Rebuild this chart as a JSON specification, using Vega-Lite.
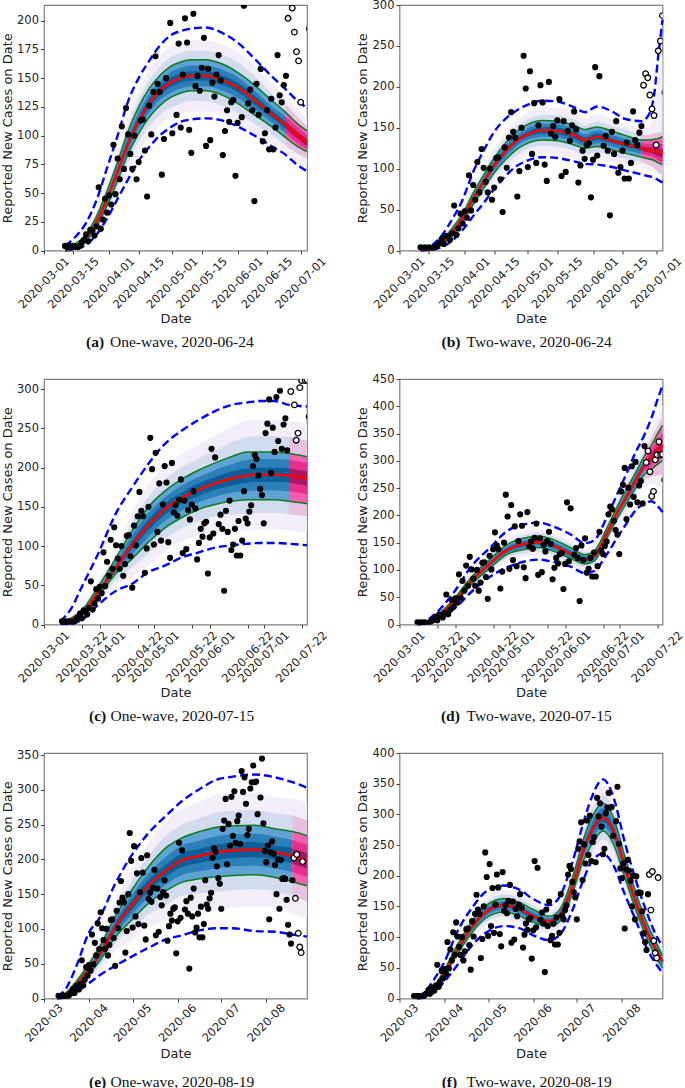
{"$schema":"https://vega.github.io/schema/vega-lite/v6.json","padding":{"left":0,"top":-2,"right":0,"bottom":0},"background":"white","columns":2,"spacing":{"row":128,"column":92.5},"bounds":"flush","config":{"view":{"stroke":"#7f7f7f","strokeWidth":1.2},"axis":{"grid":false,"domain":false,"labelFont":"DejaVu Sans","labelFontSize":11.5,"labelColor":"#222222","titleFont":"DejaVu Sans","titleFontSize":13,"titleFontWeight":"normal","titleColor":"#222222","tickColor":"#444444","tickSize":3.5,"labelOverlap":false,"labelFlush":false,"labelBound":false},"title":{"font":"Liberation Serif","fontSize":15.5,"fontWeight":"normal","color":"#111111","orient":"bottom","anchor":"start","frame":"group"}},"datasets":{"obs":[{"date":"2020-03-11","cases":4},{"date":"2020-03-12","cases":3},{"date":"2020-03-13","cases":4},{"date":"2020-03-14","cases":3},{"date":"2020-03-15","cases":4},{"date":"2020-03-16","cases":3},{"date":"2020-03-17","cases":3},{"date":"2020-03-18","cases":4},{"date":"2020-03-19","cases":7},{"date":"2020-03-20","cases":9},{"date":"2020-03-21","cases":14},{"date":"2020-03-22","cases":8},{"date":"2020-03-23","cases":18},{"date":"2020-03-24","cases":17},{"date":"2020-03-25","cases":13},{"date":"2020-03-26","cases":21},{"date":"2020-03-27","cases":55},{"date":"2020-03-28","cases":19},{"date":"2020-03-29","cases":27},{"date":"2020-03-30","cases":45},{"date":"2020-03-31","cases":33},{"date":"2020-04-01","cases":48},{"date":"2020-04-02","cases":40},{"date":"2020-04-03","cases":92},{"date":"2020-04-04","cases":49},{"date":"2020-04-05","cases":80},{"date":"2020-04-06","cases":62},{"date":"2020-04-07","cases":108},{"date":"2020-04-08","cases":71},{"date":"2020-04-09","cases":124},{"date":"2020-04-10","cases":101},{"date":"2020-04-11","cases":84},{"date":"2020-04-12","cases":71},{"date":"2020-04-13","cases":100},{"date":"2020-04-14","cases":62},{"date":"2020-04-15","cases":77},{"date":"2020-04-16","cases":113},{"date":"2020-04-17","cases":114},{"date":"2020-04-18","cases":87},{"date":"2020-04-19","cases":47},{"date":"2020-04-20","cases":126},{"date":"2020-04-21","cases":101},{"date":"2020-04-22","cases":138},{"date":"2020-04-23","cases":169},{"date":"2020-04-24","cases":145},{"date":"2020-04-25","cases":138},{"date":"2020-04-26","cases":66},{"date":"2020-04-27","cases":97},{"date":"2020-04-28","cases":150},{"date":"2020-04-29","cases":238},{"date":"2020-04-30","cases":198},{"date":"2020-05-01","cases":102},{"date":"2020-05-02","cases":219},{"date":"2020-05-03","cases":118},{"date":"2020-05-04","cases":180},{"date":"2020-05-05","cases":107},{"date":"2020-05-06","cases":153},{"date":"2020-05-07","cases":202},{"date":"2020-05-08","cases":181},{"date":"2020-05-09","cases":105},{"date":"2020-05-10","cases":85},{"date":"2020-05-11","cases":206},{"date":"2020-05-12","cases":143},{"date":"2020-05-13","cases":152},{"date":"2020-05-14","cases":139},{"date":"2020-05-15","cases":159},{"date":"2020-05-16","cases":185},{"date":"2020-05-17","cases":91},{"date":"2020-05-18","cases":158},{"date":"2020-05-19","cases":96},{"date":"2020-05-20","cases":146},{"date":"2020-05-21","cases":134},{"date":"2020-05-22","cases":153},{"date":"2020-05-23","cases":170},{"date":"2020-05-24","cases":148},{"date":"2020-05-25","cases":83},{"date":"2020-05-26","cases":104},{"date":"2020-05-27","cases":122},{"date":"2020-05-28","cases":112},{"date":"2020-05-29","cases":129},{"date":"2020-05-30","cases":131},{"date":"2020-05-31","cases":65},{"date":"2020-06-01","cases":111},{"date":"2020-06-02","cases":224},{"date":"2020-06-03","cases":116},{"date":"2020-06-04","cases":213},{"date":"2020-06-06","cases":128},{"date":"2020-06-07","cases":140},{"date":"2020-06-08","cases":122},{"date":"2020-06-09","cases":43},{"date":"2020-06-10","cases":145},{"date":"2020-06-11","cases":118},{"date":"2020-06-12","cases":158},{"date":"2020-06-13","cases":95},{"date":"2020-06-14","cases":102},{"date":"2020-06-15","cases":122},{"date":"2020-06-16","cases":88},{"date":"2020-06-17","cases":132},{"date":"2020-06-18","cases":88},{"date":"2020-06-19","cases":107},{"date":"2020-06-20","cases":170},{"date":"2020-06-21","cases":135},{"date":"2020-06-22","cases":129},{"date":"2020-06-23","cases":144},{"date":"2020-06-24","cases":152},{"date":"2020-06-25","cases":202},{"date":"2020-06-26","cases":216},{"date":"2020-06-27","cases":211},{"date":"2020-06-28","cases":190},{"date":"2020-06-29","cases":173},{"date":"2020-06-30","cases":165},{"date":"2020-07-01","cases":129},{"date":"2020-07-02","cases":244},{"date":"2020-07-03","cases":256},{"date":"2020-07-04","cases":287},{"date":"2020-07-05","cases":193},{"date":"2020-07-06","cases":251},{"date":"2020-07-07","cases":220},{"date":"2020-07-08","cases":290},{"date":"2020-07-09","cases":234},{"date":"2020-07-10","cases":298},{"date":"2020-07-11","cases":224},{"date":"2020-07-12","cases":255},{"date":"2020-07-13","cases":263},{"date":"2020-07-14","cases":222},{"date":"2020-07-15","cases":327},{"date":"2020-07-16","cases":297},{"date":"2020-07-17","cases":318},{"date":"2020-07-18","cases":280},{"date":"2020-07-19","cases":235},{"date":"2020-07-20","cases":244},{"date":"2020-07-21","cases":302},{"date":"2020-07-22","cases":311},{"date":"2020-07-23","cases":335},{"date":"2020-07-24","cases":311},{"date":"2020-07-25","cases":312},{"date":"2020-07-26","cases":265},{"date":"2020-07-28","cases":289},{"date":"2020-07-29","cases":345},{"date":"2020-07-30","cases":252},{"date":"2020-07-31","cases":212},{"date":"2020-08-01","cases":196},{"date":"2020-08-02","cases":220},{"date":"2020-08-03","cases":114},{"date":"2020-08-04","cases":210},{"date":"2020-08-05","cases":226},{"date":"2020-08-06","cases":208},{"date":"2020-08-07","cases":192},{"date":"2020-08-08","cases":150},{"date":"2020-08-09","cases":200},{"date":"2020-08-10","cases":129},{"date":"2020-08-11","cases":199},{"date":"2020-08-12","cases":172},{"date":"2020-08-13","cases":173},{"date":"2020-08-14","cases":172},{"date":"2020-08-15","cases":142},{"date":"2020-08-16","cases":106},{"date":"2020-08-17","cases":92},{"date":"2020-08-18","cases":79},{"date":"2020-08-19","cases":170},{"date":"2020-08-20","cases":202},{"date":"2020-08-21","cases":144},{"date":"2020-08-22","cases":207},{"date":"2020-08-23","cases":94},{"date":"2020-08-24","cases":74},{"date":"2020-08-25","cases":66},{"date":"2020-08-26","cases":197}],
"ca":[{"date":"2020-03-11","m":1,"gu":2,"gl":0,"bu":4,"bl":0,"pu":3,"pl":0,"qu":3,"ql":0,"ru":2,"rl":0,"su":1,"sl":1},{"date":"2020-03-16","m":3,"gu":6,"gl":2,"bu":12,"bl":1,"pu":8,"pl":0,"qu":6,"ql":0,"ru":4,"rl":2,"su":4,"sl":2},{"date":"2020-03-21","m":11,"gu":14,"gl":8,"bu":24,"bl":5,"pu":18,"pl":4,"qu":16,"ql":6,"ru":13,"rl":9,"su":12,"sl":10},{"date":"2020-03-26","m":25,"gu":30,"gl":21,"bu":44,"bl":14,"pu":35,"pl":15,"qu":32,"ql":18,"ru":28,"rl":22,"su":26,"sl":24},{"date":"2020-03-31","m":45,"gu":52,"gl":39,"bu":72,"bl":28,"pu":60,"pl":30,"qu":55,"ql":35,"ru":49,"rl":41,"su":47,"sl":43},{"date":"2020-04-05","m":69,"gu":77,"gl":61,"bu":100,"bl":45,"pu":87,"pl":51,"qu":82,"ql":56,"ru":74,"rl":64,"su":71,"sl":67},{"date":"2020-04-10","m":93,"gu":104,"gl":84,"bu":130,"bl":62,"pu":116,"pl":70,"qu":109,"ql":77,"ru":100,"rl":86,"su":96,"sl":90},{"date":"2020-04-15","m":113,"gu":125,"gl":102,"bu":150,"bl":78,"pu":139,"pl":87,"qu":131,"ql":95,"ru":120,"rl":106,"su":116,"sl":110},{"date":"2020-04-20","m":128,"gu":141,"gl":116,"bu":165,"bl":90,"pu":157,"pl":99,"qu":148,"ql":108,"ru":136,"rl":120,"su":132,"sl":124},{"date":"2020-04-25","m":139,"gu":152,"gl":126,"bu":178,"bl":100,"pu":169,"pl":109,"qu":160,"ql":118,"ru":147,"rl":131,"su":143,"sl":135},{"date":"2020-04-30","m":146,"gu":160,"gl":133,"bu":187,"bl":107,"pu":177,"pl":115,"qu":168,"ql":124,"ru":155,"rl":137,"su":150,"sl":142},{"date":"2020-05-05","m":150,"gu":164,"gl":137,"bu":191,"bl":112,"pu":181,"pl":119,"qu":172,"ql":128,"ru":159,"rl":141,"su":154,"sl":146},{"date":"2020-05-10","m":152,"gu":166,"gl":139,"bu":193,"bl":114,"pu":183,"pl":121,"qu":174,"ql":130,"ru":161,"rl":143,"su":156,"sl":148},{"date":"2020-05-17","m":152,"gu":166,"gl":139,"bu":194,"bl":115,"pu":183,"pl":121,"qu":174,"ql":130,"ru":161,"rl":143,"su":156,"sl":148},{"date":"2020-05-25","m":148,"gu":162,"gl":135,"bu":189,"bl":113,"pu":179,"pl":117,"qu":170,"ql":126,"ru":157,"rl":139,"su":152,"sl":144},{"date":"2020-06-01","m":142,"gu":155,"gl":128,"bu":181,"bl":108,"pu":173,"pl":111,"qu":164,"ql":120,"ru":151,"rl":133,"su":146,"sl":138},{"date":"2020-06-09","m":131,"gu":144,"gl":118,"bu":167,"bl":100,"pu":161,"pl":101,"qu":152,"ql":110,"ru":139,"rl":123,"su":135,"sl":127},{"date":"2020-06-17","m":119,"gu":131,"gl":108,"bu":152,"bl":91,"pu":145,"pl":93,"qu":137,"ql":101,"ru":126,"rl":112,"su":122,"sl":116},{"date":"2020-06-24","m":109,"gu":120,"gl":98,"bu":140,"bl":83,"pu":134,"pl":84,"qu":127,"ql":91,"ru":116,"rl":102,"su":112,"sl":106},{"date":"2020-06-29","m":101,"gu":111,"gl":91,"bu":131,"bl":75,"pu":124,"pl":78,"qu":117,"ql":85,"ru":108,"rl":94,"su":104,"sl":98},{"date":"2020-07-04","m":94,"gu":104,"gl":86,"bu":124,"bl":69,"pu":115,"pl":73,"qu":108,"ql":80,"ru":100,"rl":88,"su":97,"sl":91}],
"cb":[{"date":"2020-03-11","m":1,"gu":2,"gl":0,"bu":3,"bl":0,"pu":2,"pl":0,"qu":2,"ql":0,"ru":2,"rl":0,"su":1,"sl":1},{"date":"2020-03-16","m":2,"gu":4,"gl":1,"bu":6,"bl":1,"pu":5,"pl":0,"qu":4,"ql":0,"ru":3,"rl":1,"su":2,"sl":2},{"date":"2020-03-21","m":9,"gu":12,"gl":7,"bu":18,"bl":4,"pu":15,"pl":3,"qu":13,"ql":5,"ru":11,"rl":7,"su":10,"sl":8},{"date":"2020-03-26","m":22,"gu":27,"gl":18,"bu":38,"bl":12,"pu":32,"pl":12,"qu":29,"ql":15,"ru":25,"rl":19,"su":23,"sl":21},{"date":"2020-03-31","m":40,"gu":45,"gl":35,"bu":62,"bl":25,"pu":52,"pl":28,"qu":48,"ql":32,"ru":43,"rl":37,"su":42,"sl":38},{"date":"2020-04-05","m":63,"gu":70,"gl":56,"bu":96,"bl":42,"pu":79,"pl":47,"qu":74,"ql":52,"ru":68,"rl":58,"su":65,"sl":61},{"date":"2020-04-10","m":84,"gu":92,"gl":76,"bu":122,"bl":58,"pu":102,"pl":66,"qu":97,"ql":71,"ru":89,"rl":79,"su":86,"sl":82},{"date":"2020-04-15","m":104,"gu":113,"gl":95,"bu":145,"bl":75,"pu":125,"pl":83,"qu":118,"ql":90,"ru":110,"rl":98,"su":107,"sl":101},{"date":"2020-04-20","m":120,"gu":130,"gl":110,"bu":160,"bl":90,"pu":143,"pl":97,"qu":136,"ql":104,"ru":127,"rl":113,"su":123,"sl":117},{"date":"2020-04-25","m":133,"gu":144,"gl":122,"bu":170,"bl":102,"pu":158,"pl":108,"qu":151,"ql":115,"ru":140,"rl":126,"su":136,"sl":130},{"date":"2020-04-30","m":141,"gu":153,"gl":130,"bu":177,"bl":109,"pu":167,"pl":115,"qu":159,"ql":123,"ru":148,"rl":134,"su":144,"sl":138},{"date":"2020-05-08","m":147,"gu":159,"gl":135,"bu":183,"bl":114,"pu":175,"pl":119,"qu":166,"ql":128,"ru":155,"rl":139,"su":151,"sl":143},{"date":"2020-05-15","m":146,"gu":158,"gl":134,"bu":182,"bl":113,"pu":174,"pl":118,"qu":165,"ql":127,"ru":154,"rl":138,"su":150,"sl":142},{"date":"2020-05-23","m":141,"gu":153,"gl":129,"bu":175,"bl":109,"pu":169,"pl":113,"qu":160,"ql":122,"ru":149,"rl":133,"su":145,"sl":137},{"date":"2020-05-28","m":135,"gu":148,"gl":125,"bu":169,"bl":106,"pu":161,"pl":109,"qu":153,"ql":117,"ru":142,"rl":128,"su":138,"sl":132},{"date":"2020-06-03","m":139,"gu":151,"gl":127,"bu":176,"bl":105,"pu":167,"pl":111,"qu":158,"ql":120,"ru":147,"rl":131,"su":143,"sl":135},{"date":"2020-06-10","m":134,"gu":146,"gl":123,"bu":170,"bl":102,"pu":160,"pl":108,"qu":152,"ql":116,"ru":141,"rl":127,"su":137,"sl":131},{"date":"2020-06-16","m":130,"gu":141,"gl":119,"bu":161,"bl":98,"pu":155,"pl":105,"qu":148,"ql":112,"ru":137,"rl":123,"su":133,"sl":127},{"date":"2020-06-24","m":125,"gu":135,"gl":114,"bu":158,"bl":93,"pu":149,"pl":101,"qu":142,"ql":108,"ru":132,"rl":118,"su":128,"sl":122},{"date":"2020-06-27","m":123,"gu":135,"gl":112,"bu":164,"bl":91,"pu":150,"pl":98,"qu":141,"ql":105,"ru":130,"rl":116,"su":126,"sl":120},{"date":"2020-06-30","m":122,"gu":136,"gl":110,"bu":190,"bl":89,"pu":170,"pl":96,"qu":143,"ql":101,"ru":130,"rl":114,"su":126,"sl":118},{"date":"2020-07-02","m":120,"gu":137,"gl":107,"bu":238,"bl":86,"pu":205,"pl":92,"qu":144,"ql":96,"ru":130,"rl":110,"su":125,"sl":115},{"date":"2020-07-04","m":119,"gu":139,"gl":105,"bu":282,"bl":83,"pu":240,"pl":88,"qu":146,"ql":92,"ru":130,"rl":108,"su":124,"sl":114}],
"cc":[{"date":"2020-03-10","m":2,"gu":3,"gl":1,"bu":4,"bl":1,"pu":4,"pl":0,"qu":4,"ql":0,"ru":3,"rl":1,"su":2,"sl":2},{"date":"2020-03-16","m":6,"gu":8,"gl":4,"bu":20,"bl":1,"pu":11,"pl":1,"qu":9,"ql":3,"ru":7,"rl":5,"su":7,"sl":5},{"date":"2020-03-22","m":14,"gu":18,"gl":11,"bu":48,"bl":6,"pu":22,"pl":6,"qu":20,"ql":8,"ru":16,"rl":12,"su":15,"sl":13},{"date":"2020-03-31","m":41,"gu":48,"gl":35,"bu":90,"bl":25,"pu":56,"pl":26,"qu":51,"ql":31,"ru":45,"rl":37,"su":43,"sl":39},{"date":"2020-04-10","m":73,"gu":85,"gl":65,"bu":142,"bl":43,"pu":96,"pl":50,"qu":89,"ql":57,"ru":80,"rl":66,"su":76,"sl":70},{"date":"2020-04-19","m":102,"gu":120,"gl":84,"bu":175,"bl":52,"pu":143,"pl":61,"qu":131,"ql":73,"ru":114,"rl":90,"su":107,"sl":97},{"date":"2020-04-28","m":127,"gu":150,"gl":105,"bu":205,"bl":67,"pu":179,"pl":75,"qu":163,"ql":91,"ru":142,"rl":112,"su":134,"sl":120},{"date":"2020-05-07","m":147,"gu":170,"gl":123,"bu":230,"bl":75,"pu":201,"pl":93,"qu":185,"ql":109,"ru":162,"rl":132,"su":154,"sl":140},{"date":"2020-05-17","m":162,"gu":186,"gl":137,"bu":248,"bl":86,"pu":218,"pl":106,"qu":201,"ql":123,"ru":178,"rl":146,"su":169,"sl":155},{"date":"2020-05-26","m":172,"gu":197,"gl":147,"bu":261,"bl":92,"pu":230,"pl":114,"qu":212,"ql":132,"ru":188,"rl":156,"su":180,"sl":164},{"date":"2020-06-04","m":180,"gu":206,"gl":153,"bu":272,"bl":98,"pu":241,"pl":119,"qu":222,"ql":138,"ru":197,"rl":163,"su":188,"sl":172},{"date":"2020-06-13","m":186,"gu":214,"gl":157,"bu":280,"bl":101,"pu":252,"pl":120,"qu":232,"ql":140,"ru":204,"rl":168,"su":195,"sl":177},{"date":"2020-06-22","m":190,"gu":220,"gl":159,"bu":283,"bl":103,"pu":260,"pl":120,"qu":239,"ql":141,"ru":210,"rl":170,"su":199,"sl":181},{"date":"2020-06-29","m":191,"gu":220,"gl":159,"bu":285,"bl":104,"pu":261,"pl":121,"qu":240,"ql":142,"ru":211,"rl":171,"su":200,"sl":182},{"date":"2020-07-07","m":191,"gu":220,"gl":159,"bu":285,"bl":104,"pu":261,"pl":121,"qu":240,"ql":142,"ru":211,"rl":171,"su":200,"sl":182},{"date":"2020-07-15","m":190,"gu":218,"gl":157,"bu":280,"bl":103,"pu":260,"pl":120,"qu":239,"ql":141,"ru":210,"rl":170,"su":199,"sl":181},{"date":"2020-07-25","m":186,"gu":214,"gl":154,"bu":278,"bl":101,"pu":255,"pl":117,"qu":234,"ql":138,"ru":206,"rl":166,"su":195,"sl":177}],
"cd":[{"date":"2020-03-11","m":1,"gu":2,"gl":0,"bu":3,"bl":0,"pu":2,"pl":0,"qu":2,"ql":0,"ru":2,"rl":0,"su":1,"sl":1},{"date":"2020-03-16","m":4,"gu":5,"gl":3,"bu":7,"bl":2,"pu":6,"pl":2,"qu":6,"ql":2,"ru":5,"rl":3,"su":4,"sl":4},{"date":"2020-03-21","m":12,"gu":15,"gl":10,"bu":20,"bl":7,"pu":18,"pl":6,"qu":16,"ql":8,"ru":14,"rl":10,"su":13,"sl":11},{"date":"2020-03-31","m":41,"gu":46,"gl":37,"bu":58,"bl":28,"pu":51,"pl":31,"qu":48,"ql":34,"ru":44,"rl":38,"su":42,"sl":40},{"date":"2020-04-10","m":80,"gu":87,"gl":74,"bu":107,"bl":60,"pu":95,"pl":65,"qu":90,"ql":70,"ru":84,"rl":76,"su":82,"sl":78},{"date":"2020-04-20","m":111,"gu":119,"gl":103,"bu":140,"bl":87,"pu":129,"pl":93,"qu":124,"ql":98,"ru":116,"rl":106,"su":113,"sl":109},{"date":"2020-04-30","m":137,"gu":147,"gl":129,"bu":172,"bl":105,"pu":158,"pl":116,"qu":151,"ql":123,"ru":143,"rl":131,"su":140,"sl":134},{"date":"2020-05-10","m":148,"gu":159,"gl":138,"bu":184,"bl":116,"pu":172,"pl":124,"qu":165,"ql":131,"ru":155,"rl":141,"su":151,"sl":145},{"date":"2020-05-17","m":151,"gu":162,"gl":141,"bu":187,"bl":119,"pu":175,"pl":127,"qu":168,"ql":134,"ru":158,"rl":144,"su":154,"sl":148},{"date":"2020-05-25","m":145,"gu":156,"gl":135,"bu":180,"bl":115,"pu":169,"pl":121,"qu":162,"ql":128,"ru":152,"rl":138,"su":148,"sl":142},{"date":"2020-06-04","m":130,"gu":141,"gl":121,"bu":165,"bl":106,"pu":153,"pl":107,"qu":146,"ql":114,"ru":137,"rl":123,"su":133,"sl":127},{"date":"2020-06-12","m":119,"gu":128,"gl":111,"bu":149,"bl":94,"pu":139,"pl":99,"qu":133,"ql":105,"ru":125,"rl":113,"su":122,"sl":116},{"date":"2020-06-17","m":125,"gu":134,"gl":116,"bu":154,"bl":98,"pu":146,"pl":104,"qu":139,"ql":111,"ru":131,"rl":119,"su":128,"sl":122},{"date":"2020-06-24","m":166,"gu":176,"gl":157,"bu":196,"bl":128,"pu":188,"pl":144,"qu":181,"ql":151,"ru":172,"rl":160,"su":169,"sl":163},{"date":"2020-06-30","m":206,"gu":217,"gl":195,"bu":240,"bl":160,"pu":231,"pl":181,"qu":224,"ql":188,"ru":213,"rl":199,"su":209,"sl":203},{"date":"2020-07-06","m":240,"gu":254,"gl":228,"bu":284,"bl":190,"pu":270,"pl":210,"qu":261,"ql":219,"ru":248,"rl":232,"su":244,"sl":236},{"date":"2020-07-09","m":258,"gu":272,"gl":244,"bu":308,"bl":205,"pu":290,"pl":226,"qu":280,"ql":236,"ru":267,"rl":249,"su":262,"sl":254},{"date":"2020-07-15","m":292,"gu":309,"gl":275,"bu":348,"bl":222,"pu":331,"pl":253,"qu":319,"ql":265,"ru":303,"rl":281,"su":297,"sl":287},{"date":"2020-07-19","m":307,"gu":329,"gl":285,"bu":380,"bl":226,"pu":357,"pl":257,"qu":342,"ql":272,"ru":321,"rl":293,"su":314,"sl":300},{"date":"2020-07-22","m":318,"gu":348,"gl":293,"bu":410,"bl":218,"pu":381,"pl":255,"qu":362,"ql":274,"ru":336,"rl":300,"su":326,"sl":310},{"date":"2020-07-25","m":328,"gu":365,"gl":300,"bu":438,"bl":206,"pu":403,"pl":253,"qu":380,"ql":276,"ru":349,"rl":307,"su":338,"sl":318}],
"ce":[{"date":"2020-03-10","m":1,"gu":2,"gl":0,"bu":3,"bl":0,"pu":3,"pl":0,"qu":3,"ql":0,"ru":2,"rl":0,"su":1,"sl":1},{"date":"2020-03-16","m":6,"gu":8,"gl":4,"bu":14,"bl":2,"pu":11,"pl":1,"qu":9,"ql":3,"ru":7,"rl":5,"su":7,"sl":5},{"date":"2020-03-23","m":20,"gu":24,"gl":16,"bu":45,"bl":9,"pu":29,"pl":11,"qu":26,"ql":14,"ru":23,"rl":17,"su":21,"sl":19},{"date":"2020-04-01","m":42,"gu":50,"gl":35,"bu":95,"bl":22,"pu":59,"pl":25,"qu":54,"ql":30,"ru":47,"rl":37,"su":44,"sl":40},{"date":"2020-04-08","m":62,"gu":73,"gl":53,"bu":115,"bl":33,"pu":85,"pl":39,"qu":78,"ql":46,"ru":69,"rl":55,"su":65,"sl":59},{"date":"2020-04-19","m":103,"gu":118,"gl":88,"bu":165,"bl":47,"pu":138,"pl":68,"qu":127,"ql":79,"ru":113,"rl":93,"su":108,"sl":98},{"date":"2020-05-01","m":136,"gu":158,"gl":114,"bu":208,"bl":61,"pu":187,"pl":85,"qu":171,"ql":101,"ru":150,"rl":122,"su":143,"sl":129},{"date":"2020-05-12","m":163,"gu":190,"gl":137,"bu":238,"bl":73,"pu":224,"pl":102,"qu":205,"ql":121,"ru":180,"rl":146,"su":171,"sl":155},{"date":"2020-05-24","m":184,"gu":217,"gl":155,"bu":263,"bl":85,"pu":255,"pl":113,"qu":234,"ql":134,"ru":204,"rl":164,"su":193,"sl":175},{"date":"2020-06-04","m":199,"gu":231,"gl":167,"bu":284,"bl":91,"pu":273,"pl":125,"qu":250,"ql":148,"ru":220,"rl":178,"su":209,"sl":189},{"date":"2020-06-16","m":205,"gu":240,"gl":172,"bu":301,"bl":98,"pu":283,"pl":127,"qu":259,"ql":151,"ru":227,"rl":183,"su":215,"sl":195},{"date":"2020-06-27","m":210,"gu":246,"gl":175,"bu":314,"bl":101,"pu":292,"pl":128,"qu":267,"ql":153,"ru":233,"rl":187,"su":221,"sl":199},{"date":"2020-07-09","m":213,"gu":248,"gl":177,"bu":319,"bl":101,"pu":295,"pl":131,"qu":270,"ql":156,"ru":236,"rl":190,"su":224,"sl":202},{"date":"2020-07-24","m":214,"gu":249,"gl":178,"bu":322,"bl":97,"pu":296,"pl":132,"qu":271,"ql":157,"ru":237,"rl":191,"su":225,"sl":203},{"date":"2020-08-07","m":210,"gu":244,"gl":174,"bu":318,"bl":96,"pu":290,"pl":130,"qu":266,"ql":154,"ru":233,"rl":187,"su":220,"sl":200},{"date":"2020-08-19","m":205,"gu":240,"gl":168,"bu":311,"bl":92,"pu":288,"pl":122,"qu":263,"ql":147,"ru":228,"rl":182,"su":216,"sl":194},{"date":"2020-08-29","m":198,"gu":234,"gl":162,"bu":303,"bl":89,"pu":281,"pl":115,"qu":256,"ql":140,"ru":221,"rl":175,"su":209,"sl":187}],
"cf":[{"date":"2020-03-13","m":1,"gu":2,"gl":0,"bu":3,"bl":0,"pu":2,"pl":0,"qu":2,"ql":0,"ru":2,"rl":0,"su":1,"sl":1},{"date":"2020-03-19","m":6,"gu":8,"gl":4,"bu":12,"bl":2,"pu":10,"pl":2,"qu":9,"ql":3,"ru":7,"rl":5,"su":7,"sl":5},{"date":"2020-03-25","m":18,"gu":21,"gl":15,"bu":32,"bl":10,"pu":25,"pl":11,"qu":23,"ql":13,"ru":20,"rl":16,"su":19,"sl":17},{"date":"2020-04-01","m":42,"gu":47,"gl":38,"bu":60,"bl":28,"pu":52,"pl":32,"qu":49,"ql":35,"ru":45,"rl":39,"su":43,"sl":41},{"date":"2020-04-10","m":80,"gu":88,"gl":73,"bu":110,"bl":55,"pu":97,"pl":63,"qu":92,"ql":68,"ru":85,"rl":75,"su":82,"sl":78},{"date":"2020-04-20","m":117,"gu":126,"gl":108,"bu":148,"bl":87,"pu":138,"pl":96,"qu":131,"ql":103,"ru":123,"rl":111,"su":120,"sl":114},{"date":"2020-04-30","m":142,"gu":152,"gl":132,"bu":175,"bl":108,"pu":165,"pl":119,"qu":158,"ql":126,"ru":149,"rl":135,"su":145,"sl":139},{"date":"2020-05-12","m":152,"gu":163,"gl":141,"bu":184,"bl":118,"pu":177,"pl":127,"qu":170,"ql":134,"ru":159,"rl":145,"su":155,"sl":149},{"date":"2020-05-22","m":146,"gu":157,"gl":135,"bu":178,"bl":115,"pu":171,"pl":121,"qu":164,"ql":128,"ru":153,"rl":139,"su":149,"sl":143},{"date":"2020-06-01","m":134,"gu":145,"gl":124,"bu":162,"bl":103,"pu":158,"pl":110,"qu":151,"ql":117,"ru":141,"rl":127,"su":137,"sl":131},{"date":"2020-06-12","m":126,"gu":134,"gl":118,"bu":152,"bl":95,"pu":144,"pl":108,"qu":139,"ql":113,"ru":131,"rl":121,"su":128,"sl":124},{"date":"2020-06-19","m":135,"gu":144,"gl":125,"bu":165,"bl":103,"pu":157,"pl":113,"qu":150,"ql":120,"ru":141,"rl":129,"su":138,"sl":132},{"date":"2020-06-29","m":190,"gu":204,"gl":178,"bu":230,"bl":150,"pu":220,"pl":160,"qu":211,"ql":169,"ru":198,"rl":182,"su":194,"sl":186},{"date":"2020-07-05","m":238,"gu":255,"gl":222,"bu":282,"bl":190,"pu":276,"pl":200,"qu":264,"ql":212,"ru":249,"rl":227,"su":243,"sl":233},{"date":"2020-07-11","m":272,"gu":293,"gl":250,"bu":326,"bl":222,"pu":321,"pl":223,"qu":306,"ql":238,"ru":286,"rl":258,"su":278,"sl":266},{"date":"2020-07-19","m":295,"gu":318,"gl":273,"bu":357,"bl":236,"pu":347,"pl":243,"qu":331,"ql":259,"ru":310,"rl":280,"su":302,"sl":288},{"date":"2020-07-26","m":275,"gu":296,"gl":253,"bu":330,"bl":218,"pu":324,"pl":226,"qu":309,"ql":241,"ru":289,"rl":261,"su":281,"sl":269},{"date":"2020-08-03","m":215,"gu":232,"gl":198,"bu":255,"bl":170,"pu":254,"pl":176,"qu":242,"ql":188,"ru":226,"rl":204,"su":220,"sl":210},{"date":"2020-08-11","m":155,"gu":170,"gl":142,"bu":190,"bl":125,"pu":187,"pl":123,"qu":177,"ql":133,"ru":164,"rl":146,"su":159,"sl":151},{"date":"2020-08-19","m":106,"gu":119,"gl":94,"bu":135,"bl":78,"pu":135,"pl":77,"qu":126,"ql":86,"ru":114,"rl":98,"su":110,"sl":102},{"date":"2020-08-24","m":82,"gu":94,"gl":70,"bu":106,"bl":58,"pu":106,"pl":58,"qu":101,"ql":63,"ru":90,"rl":74,"su":86,"sl":78},{"date":"2020-08-29","m":60,"gu":70,"gl":50,"bu":85,"bl":42,"pu":83,"pl":37,"qu":76,"ql":44,"ru":67,"rl":53,"su":63,"sl":57}]},
"concat":[
{"width":263,"height":245.5,"data":{"name":"ca"},"title":{"text":"One-wave, 2020-06-24","dx":66,"offset":-15},"encoding":{"x":{"field":"date","type":"temporal","scale":{"domain":["2020-03-01","2020-07-04"]},"axis":{"title":"Date","format":"%Y-%m-%d","values":["2020-03-01","2020-03-15","2020-04-01","2020-04-15","2020-05-01","2020-05-15","2020-06-01","2020-06-15","2020-07-01"],"labelAngle":-45,"labelAlign":"center","labelBaseline":"middle","labelPadding":29,"titlePadding":2}},"y":{"field":"m","type":"quantitative","scale":{"domain":[0,213.6],"nice":false},"axis":{"title":"Reported New Cases on Date","values":[0,25,50,75,100,125,150,175,200],"titlePadding":2.5}}},"layer":[
{"mark":{"type":"area","interpolate":"monotone","color":"#f3eef9"},"encoding":{"y":{"field":"pu"},"y2":{"field":"pl"}}},
{"mark":{"type":"area","interpolate":"monotone","color":"#d3dbee"},"encoding":{"y":{"field":"qu"},"y2":{"field":"ql"}}},
{"mark":{"type":"area","interpolate":"monotone","color":"#5fa3d3"},"encoding":{"y":{"field":"gu"},"y2":{"field":"gl"}}},
{"mark":{"type":"area","interpolate":"monotone","color":"#2b80ba"},"encoding":{"y":{"field":"ru"},"y2":{"field":"rl"}}},
{"mark":{"type":"area","interpolate":"monotone","color":"#0a5f98"},"encoding":{"y":{"field":"su"},"y2":{"field":"sl"}}},
{"transform":[{"filter":"datum.date>=toDate('2020-06-24')"}],"mark":{"type":"area","interpolate":"monotone","color":"#e9c1e0"},"encoding":{"y":{"field":"qu"},"y2":{"field":"ql"}}},
{"transform":[{"filter":"datum.date>=toDate('2020-06-24')"}],"mark":{"type":"area","interpolate":"monotone","color":"#f35fb0"},"encoding":{"y":{"field":"gu"},"y2":{"field":"gl"}}},
{"transform":[{"filter":"datum.date>=toDate('2020-06-24')"}],"mark":{"type":"area","interpolate":"monotone","color":"#e52f8e"},"encoding":{"y":{"field":"ru"},"y2":{"field":"rl"}}},
{"transform":[{"filter":"datum.date>=toDate('2020-06-24')"}],"mark":{"type":"area","interpolate":"monotone","color":"#a81763"},"encoding":{"y":{"field":"su"},"y2":{"field":"sl"}}},
{"mark":{"type":"line","interpolate":"monotone","color":"#0000ff","strokeWidth":2.4,"strokeDash":[8,4]},"encoding":{"y":{"field":"bu"}}},
{"mark":{"type":"line","interpolate":"monotone","color":"#0000ff","strokeWidth":2.4,"strokeDash":[8,4]},"encoding":{"y":{"field":"bl"}}},
{"mark":{"type":"line","interpolate":"monotone","color":"#0b7a1e","strokeWidth":1.5},"encoding":{"y":{"field":"gu"}}},
{"mark":{"type":"line","interpolate":"monotone","color":"#0b7a1e","strokeWidth":1.5},"encoding":{"y":{"field":"gl"}}},
{"mark":{"type":"line","interpolate":"monotone","color":"#ff0000","strokeWidth":2.6},"encoding":{"y":{"field":"m"}}},
{"data":{"name":"obs"},"transform":[{"filter":"datum.date<=toDate('2020-06-24')||datum.date>toDate('2020-07-04')"}],"mark":{"type":"circle","color":"#000000","size":38,"opacity":1,"clip":true},"encoding":{"y":{"field":"cases"}}},
{"data":{"name":"obs"},"transform":[{"filter":"datum.date>toDate('2020-06-24')&&datum.date<=toDate('2020-07-04')"}],"mark":{"type":"point","shape":"circle","fill":"#ffffff","stroke":"#000000","strokeWidth":1.3,"size":32,"opacity":1,"fillOpacity":1,"clip":true},"encoding":{"y":{"field":"cases"}}},
{"data":{"values":[{"date":"2020-03-21","v":0,"label":"(a)"}]},"mark":{"type":"text","font":"Liberation Serif","fontWeight":"bold","fontSize":15.5,"color":"#111111","align":"left","baseline":"middle","dy":91},"encoding":{"y":{"field":"v"},"text":{"field":"label"}}}
]},
{"width":263,"height":245.5,"data":{"name":"cb"},"title":{"text":"Two-wave, 2020-06-24","dx":67,"offset":-15},"encoding":{"x":{"field":"date","type":"temporal","scale":{"domain":["2020-03-01","2020-07-04"]},"axis":{"title":"Date","format":"%Y-%m-%d","values":["2020-03-01","2020-03-15","2020-04-01","2020-04-15","2020-05-01","2020-05-15","2020-06-01","2020-06-15","2020-07-01"],"labelAngle":-45,"labelAlign":"center","labelBaseline":"middle","labelPadding":29,"titlePadding":2}},"y":{"field":"m","type":"quantitative","scale":{"domain":[0,300],"nice":false},"axis":{"title":"Reported New Cases on Date","values":[0,50,100,150,200,250,300],"titlePadding":2.5}}},"layer":[
{"mark":{"type":"area","interpolate":"monotone","color":"#f3eef9"},"encoding":{"y":{"field":"pu"},"y2":{"field":"pl"}}},
{"mark":{"type":"area","interpolate":"monotone","color":"#d3dbee"},"encoding":{"y":{"field":"qu"},"y2":{"field":"ql"}}},
{"mark":{"type":"area","interpolate":"monotone","color":"#5fa3d3"},"encoding":{"y":{"field":"gu"},"y2":{"field":"gl"}}},
{"mark":{"type":"area","interpolate":"monotone","color":"#2b80ba"},"encoding":{"y":{"field":"ru"},"y2":{"field":"rl"}}},
{"mark":{"type":"area","interpolate":"monotone","color":"#0a5f98"},"encoding":{"y":{"field":"su"},"y2":{"field":"sl"}}},
{"transform":[{"filter":"datum.date>=toDate('2020-06-24')"}],"mark":{"type":"area","interpolate":"monotone","color":"#e9c1e0"},"encoding":{"y":{"field":"qu"},"y2":{"field":"ql"}}},
{"transform":[{"filter":"datum.date>=toDate('2020-06-24')"}],"mark":{"type":"area","interpolate":"monotone","color":"#f35fb0"},"encoding":{"y":{"field":"gu"},"y2":{"field":"gl"}}},
{"transform":[{"filter":"datum.date>=toDate('2020-06-24')"}],"mark":{"type":"area","interpolate":"monotone","color":"#e52f8e"},"encoding":{"y":{"field":"ru"},"y2":{"field":"rl"}}},
{"transform":[{"filter":"datum.date>=toDate('2020-06-24')"}],"mark":{"type":"area","interpolate":"monotone","color":"#a81763"},"encoding":{"y":{"field":"su"},"y2":{"field":"sl"}}},
{"mark":{"type":"line","interpolate":"monotone","color":"#0000ff","strokeWidth":2.4,"strokeDash":[8,4]},"encoding":{"y":{"field":"bu"}}},
{"mark":{"type":"line","interpolate":"monotone","color":"#0000ff","strokeWidth":2.4,"strokeDash":[8,4]},"encoding":{"y":{"field":"bl"}}},
{"mark":{"type":"line","interpolate":"monotone","color":"#0b7a1e","strokeWidth":1.5},"encoding":{"y":{"field":"gu"}}},
{"mark":{"type":"line","interpolate":"monotone","color":"#0b7a1e","strokeWidth":1.5},"encoding":{"y":{"field":"gl"}}},
{"mark":{"type":"line","interpolate":"monotone","color":"#ff0000","strokeWidth":2.6},"encoding":{"y":{"field":"m"}}},
{"data":{"name":"obs"},"transform":[{"filter":"datum.date<=toDate('2020-06-24')||datum.date>toDate('2020-07-04')"}],"mark":{"type":"circle","color":"#000000","size":38,"opacity":1,"clip":true},"encoding":{"y":{"field":"cases"}}},
{"data":{"name":"obs"},"transform":[{"filter":"datum.date>toDate('2020-06-24')&&datum.date<=toDate('2020-07-04')"}],"mark":{"type":"point","shape":"circle","fill":"#ffffff","stroke":"#000000","strokeWidth":1.3,"size":32,"opacity":1,"fillOpacity":1,"clip":true},"encoding":{"y":{"field":"cases"}}},
{"data":{"values":[{"date":"2020-03-21","v":0,"label":"(b)"}]},"mark":{"type":"text","font":"Liberation Serif","fontWeight":"bold","fontSize":15.5,"color":"#111111","align":"left","baseline":"middle","dy":91},"encoding":{"y":{"field":"v"},"text":{"field":"label"}}}
]},
{"width":263,"height":245.5,"data":{"name":"cc"},"title":{"text":"One-wave, 2020-07-15","dx":66.5,"offset":-15},"encoding":{"x":{"field":"date","type":"temporal","scale":{"domain":["2020-03-01","2020-07-25"]},"axis":{"title":"Date","format":"%Y-%m-%d","values":["2020-03-01","2020-03-22","2020-04-01","2020-04-22","2020-05-01","2020-05-22","2020-06-01","2020-06-22","2020-07-01","2020-07-22"],"labelAngle":-45,"labelAlign":"center","labelBaseline":"middle","labelPadding":29,"titlePadding":2}},"y":{"field":"m","type":"quantitative","scale":{"domain":[0,313],"nice":false},"axis":{"title":"Reported New Cases on Date","values":[0,50,100,150,200,250,300],"titlePadding":2.5}}},"layer":[
{"mark":{"type":"area","interpolate":"monotone","color":"#f3eef9"},"encoding":{"y":{"field":"pu"},"y2":{"field":"pl"}}},
{"mark":{"type":"area","interpolate":"monotone","color":"#d3dbee"},"encoding":{"y":{"field":"qu"},"y2":{"field":"ql"}}},
{"mark":{"type":"area","interpolate":"monotone","color":"#5fa3d3"},"encoding":{"y":{"field":"gu"},"y2":{"field":"gl"}}},
{"mark":{"type":"area","interpolate":"monotone","color":"#2b80ba"},"encoding":{"y":{"field":"ru"},"y2":{"field":"rl"}}},
{"mark":{"type":"area","interpolate":"monotone","color":"#0a5f98"},"encoding":{"y":{"field":"su"},"y2":{"field":"sl"}}},
{"transform":[{"filter":"datum.date>=toDate('2020-07-15')"}],"mark":{"type":"area","interpolate":"monotone","color":"#e9c1e0"},"encoding":{"y":{"field":"qu"},"y2":{"field":"ql"}}},
{"transform":[{"filter":"datum.date>=toDate('2020-07-15')"}],"mark":{"type":"area","interpolate":"monotone","color":"#f35fb0"},"encoding":{"y":{"field":"gu"},"y2":{"field":"gl"}}},
{"transform":[{"filter":"datum.date>=toDate('2020-07-15')"}],"mark":{"type":"area","interpolate":"monotone","color":"#e52f8e"},"encoding":{"y":{"field":"ru"},"y2":{"field":"rl"}}},
{"transform":[{"filter":"datum.date>=toDate('2020-07-15')"}],"mark":{"type":"area","interpolate":"monotone","color":"#a81763"},"encoding":{"y":{"field":"su"},"y2":{"field":"sl"}}},
{"mark":{"type":"line","interpolate":"monotone","color":"#0000ff","strokeWidth":2.4,"strokeDash":[8,4]},"encoding":{"y":{"field":"bu"}}},
{"mark":{"type":"line","interpolate":"monotone","color":"#0000ff","strokeWidth":2.4,"strokeDash":[8,4]},"encoding":{"y":{"field":"bl"}}},
{"mark":{"type":"line","interpolate":"monotone","color":"#0b7a1e","strokeWidth":1.5},"encoding":{"y":{"field":"gu"}}},
{"mark":{"type":"line","interpolate":"monotone","color":"#0b7a1e","strokeWidth":1.5},"encoding":{"y":{"field":"gl"}}},
{"mark":{"type":"line","interpolate":"monotone","color":"#ff0000","strokeWidth":2.6},"encoding":{"y":{"field":"m"}}},
{"data":{"name":"obs"},"transform":[{"filter":"datum.date<=toDate('2020-07-15')||datum.date>toDate('2020-07-25')"}],"mark":{"type":"circle","color":"#000000","size":38,"opacity":1,"clip":true},"encoding":{"y":{"field":"cases"}}},
{"data":{"name":"obs"},"transform":[{"filter":"datum.date>toDate('2020-07-15')&&datum.date<=toDate('2020-07-25')"}],"mark":{"type":"point","shape":"circle","fill":"#ffffff","stroke":"#000000","strokeWidth":1.3,"size":32,"opacity":1,"fillOpacity":1,"clip":true},"encoding":{"y":{"field":"cases"}}},
{"data":{"values":[{"date":"2020-03-26","v":0,"label":"(c)"}]},"mark":{"type":"text","font":"Liberation Serif","fontWeight":"bold","fontSize":15.5,"color":"#111111","align":"left","baseline":"middle","dy":91},"encoding":{"y":{"field":"v"},"text":{"field":"label"}}}
]},
{"width":263,"height":245.5,"data":{"name":"cd"},"title":{"text":"Two-wave, 2020-07-15","dx":67,"offset":-15},"encoding":{"x":{"field":"date","type":"temporal","scale":{"domain":["2020-03-01","2020-07-25"]},"axis":{"title":"Date","format":"%Y-%m-%d","values":["2020-03-01","2020-03-22","2020-04-01","2020-04-22","2020-05-01","2020-05-22","2020-06-01","2020-06-22","2020-07-01","2020-07-22"],"labelAngle":-45,"labelAlign":"center","labelBaseline":"middle","labelPadding":29,"titlePadding":2}},"y":{"field":"m","type":"quantitative","scale":{"domain":[0,450],"nice":false},"axis":{"title":"Reported New Cases on Date","values":[0,50,100,150,200,250,300,350,400,450],"titlePadding":2.5}}},"layer":[
{"mark":{"type":"area","interpolate":"monotone","color":"#f3eef9"},"encoding":{"y":{"field":"pu"},"y2":{"field":"pl"}}},
{"mark":{"type":"area","interpolate":"monotone","color":"#d3dbee"},"encoding":{"y":{"field":"qu"},"y2":{"field":"ql"}}},
{"mark":{"type":"area","interpolate":"monotone","color":"#5fa3d3"},"encoding":{"y":{"field":"gu"},"y2":{"field":"gl"}}},
{"mark":{"type":"area","interpolate":"monotone","color":"#2b80ba"},"encoding":{"y":{"field":"ru"},"y2":{"field":"rl"}}},
{"mark":{"type":"area","interpolate":"monotone","color":"#0a5f98"},"encoding":{"y":{"field":"su"},"y2":{"field":"sl"}}},
{"transform":[{"filter":"datum.date>=toDate('2020-07-15')"}],"mark":{"type":"area","interpolate":"monotone","color":"#e9c1e0"},"encoding":{"y":{"field":"qu"},"y2":{"field":"ql"}}},
{"transform":[{"filter":"datum.date>=toDate('2020-07-15')"}],"mark":{"type":"area","interpolate":"monotone","color":"#f35fb0"},"encoding":{"y":{"field":"gu"},"y2":{"field":"gl"}}},
{"transform":[{"filter":"datum.date>=toDate('2020-07-15')"}],"mark":{"type":"area","interpolate":"monotone","color":"#e52f8e"},"encoding":{"y":{"field":"ru"},"y2":{"field":"rl"}}},
{"transform":[{"filter":"datum.date>=toDate('2020-07-15')"}],"mark":{"type":"area","interpolate":"monotone","color":"#a81763"},"encoding":{"y":{"field":"su"},"y2":{"field":"sl"}}},
{"mark":{"type":"line","interpolate":"monotone","color":"#0000ff","strokeWidth":2.4,"strokeDash":[8,4]},"encoding":{"y":{"field":"bu"}}},
{"mark":{"type":"line","interpolate":"monotone","color":"#0000ff","strokeWidth":2.4,"strokeDash":[8,4]},"encoding":{"y":{"field":"bl"}}},
{"mark":{"type":"line","interpolate":"monotone","color":"#0b7a1e","strokeWidth":1.5},"encoding":{"y":{"field":"gu"}}},
{"mark":{"type":"line","interpolate":"monotone","color":"#0b7a1e","strokeWidth":1.5},"encoding":{"y":{"field":"gl"}}},
{"mark":{"type":"line","interpolate":"monotone","color":"#ff0000","strokeWidth":2.6},"encoding":{"y":{"field":"m"}}},
{"data":{"name":"obs"},"transform":[{"filter":"datum.date<=toDate('2020-07-15')||datum.date>toDate('2020-07-25')"}],"mark":{"type":"circle","color":"#000000","size":38,"opacity":1,"clip":true},"encoding":{"y":{"field":"cases"}}},
{"data":{"name":"obs"},"transform":[{"filter":"datum.date>toDate('2020-07-15')&&datum.date<=toDate('2020-07-25')"}],"mark":{"type":"point","shape":"circle","fill":"#ffffff","stroke":"#000000","strokeWidth":1.3,"size":32,"opacity":1,"fillOpacity":1,"clip":true},"encoding":{"y":{"field":"cases"}}},
{"data":{"values":[{"date":"2020-03-24","v":0,"label":"(d)"}]},"mark":{"type":"text","font":"Liberation Serif","fontWeight":"bold","fontSize":15.5,"color":"#111111","align":"left","baseline":"middle","dy":91},"encoding":{"y":{"field":"v"},"text":{"field":"label"}}}
]},
{"width":263,"height":245.5,"data":{"name":"ce"},"title":{"text":"One-wave, 2020-08-19","dx":66.5,"offset":-15},"encoding":{"x":{"field":"date","type":"temporal","scale":{"domain":["2020-03-01","2020-08-29"]},"axis":{"title":"Date","format":"%Y-%m","values":["2020-03-01","2020-04-01","2020-05-01","2020-06-01","2020-07-01","2020-08-01"],"labelAngle":-45,"labelAlign":"center","labelBaseline":"middle","labelPadding":21,"titlePadding":3.5}},"y":{"field":"m","type":"quantitative","scale":{"domain":[0,353],"nice":false},"axis":{"title":"Reported New Cases on Date","values":[0,50,100,150,200,250,300,350],"titlePadding":2.5}}},"layer":[
{"mark":{"type":"area","interpolate":"monotone","color":"#f3eef9"},"encoding":{"y":{"field":"pu"},"y2":{"field":"pl"}}},
{"mark":{"type":"area","interpolate":"monotone","color":"#d3dbee"},"encoding":{"y":{"field":"qu"},"y2":{"field":"ql"}}},
{"mark":{"type":"area","interpolate":"monotone","color":"#5fa3d3"},"encoding":{"y":{"field":"gu"},"y2":{"field":"gl"}}},
{"mark":{"type":"area","interpolate":"monotone","color":"#2b80ba"},"encoding":{"y":{"field":"ru"},"y2":{"field":"rl"}}},
{"mark":{"type":"area","interpolate":"monotone","color":"#0a5f98"},"encoding":{"y":{"field":"su"},"y2":{"field":"sl"}}},
{"transform":[{"filter":"datum.date>=toDate('2020-08-19')"}],"mark":{"type":"area","interpolate":"monotone","color":"#e9c1e0"},"encoding":{"y":{"field":"qu"},"y2":{"field":"ql"}}},
{"transform":[{"filter":"datum.date>=toDate('2020-08-19')"}],"mark":{"type":"area","interpolate":"monotone","color":"#f35fb0"},"encoding":{"y":{"field":"gu"},"y2":{"field":"gl"}}},
{"transform":[{"filter":"datum.date>=toDate('2020-08-19')"}],"mark":{"type":"area","interpolate":"monotone","color":"#e52f8e"},"encoding":{"y":{"field":"ru"},"y2":{"field":"rl"}}},
{"transform":[{"filter":"datum.date>=toDate('2020-08-19')"}],"mark":{"type":"area","interpolate":"monotone","color":"#a81763"},"encoding":{"y":{"field":"su"},"y2":{"field":"sl"}}},
{"mark":{"type":"line","interpolate":"monotone","color":"#0000ff","strokeWidth":2.4,"strokeDash":[8,4]},"encoding":{"y":{"field":"bu"}}},
{"mark":{"type":"line","interpolate":"monotone","color":"#0000ff","strokeWidth":2.4,"strokeDash":[8,4]},"encoding":{"y":{"field":"bl"}}},
{"mark":{"type":"line","interpolate":"monotone","color":"#0b7a1e","strokeWidth":1.5},"encoding":{"y":{"field":"gu"}}},
{"mark":{"type":"line","interpolate":"monotone","color":"#0b7a1e","strokeWidth":1.5},"encoding":{"y":{"field":"gl"}}},
{"mark":{"type":"line","interpolate":"monotone","color":"#ff0000","strokeWidth":2.6},"encoding":{"y":{"field":"m"}}},
{"data":{"name":"obs"},"transform":[{"filter":"datum.date<=toDate('2020-08-19')"}],"mark":{"type":"circle","color":"#000000","size":38,"opacity":1,"clip":true},"encoding":{"y":{"field":"cases"}}},
{"data":{"name":"obs"},"transform":[{"filter":"datum.date>toDate('2020-08-19')"}],"mark":{"type":"point","shape":"circle","fill":"#ffffff","stroke":"#000000","strokeWidth":1.3,"size":32,"opacity":1,"fillOpacity":1,"clip":true},"encoding":{"y":{"field":"cases"}}},
{"data":{"values":[{"date":"2020-04-01","v":0,"label":"(e)"}]},"mark":{"type":"text","font":"Liberation Serif","fontWeight":"bold","fontSize":15.5,"color":"#111111","align":"left","baseline":"middle","dy":83},"encoding":{"y":{"field":"v"},"text":{"field":"label"}}}
]},
{"width":263,"height":245.5,"data":{"name":"cf"},"title":{"text":"Two-wave, 2020-08-19","dx":67,"offset":-15},"encoding":{"x":{"field":"date","type":"temporal","scale":{"domain":["2020-03-01","2020-08-29"]},"axis":{"title":"Date","format":"%Y-%m","values":["2020-03-01","2020-04-01","2020-05-01","2020-06-01","2020-07-01","2020-08-01"],"labelAngle":-45,"labelAlign":"center","labelBaseline":"middle","labelPadding":21,"titlePadding":3.5}},"y":{"field":"m","type":"quantitative","scale":{"domain":[0,400],"nice":false},"axis":{"title":"Reported New Cases on Date","values":[0,50,100,150,200,250,300,350,400],"titlePadding":2.5}}},"layer":[
{"mark":{"type":"area","interpolate":"monotone","color":"#f3eef9"},"encoding":{"y":{"field":"pu"},"y2":{"field":"pl"}}},
{"mark":{"type":"area","interpolate":"monotone","color":"#d3dbee"},"encoding":{"y":{"field":"qu"},"y2":{"field":"ql"}}},
{"mark":{"type":"area","interpolate":"monotone","color":"#5fa3d3"},"encoding":{"y":{"field":"gu"},"y2":{"field":"gl"}}},
{"mark":{"type":"area","interpolate":"monotone","color":"#2b80ba"},"encoding":{"y":{"field":"ru"},"y2":{"field":"rl"}}},
{"mark":{"type":"area","interpolate":"monotone","color":"#0a5f98"},"encoding":{"y":{"field":"su"},"y2":{"field":"sl"}}},
{"mark":{"type":"line","interpolate":"monotone","color":"#0000ff","strokeWidth":2.4,"strokeDash":[8,4]},"encoding":{"y":{"field":"bu"}}},
{"mark":{"type":"line","interpolate":"monotone","color":"#0000ff","strokeWidth":2.4,"strokeDash":[8,4]},"encoding":{"y":{"field":"bl"}}},
{"mark":{"type":"line","interpolate":"monotone","color":"#0b7a1e","strokeWidth":1.5},"encoding":{"y":{"field":"gu"}}},
{"mark":{"type":"line","interpolate":"monotone","color":"#0b7a1e","strokeWidth":1.5},"encoding":{"y":{"field":"gl"}}},
{"mark":{"type":"line","interpolate":"monotone","color":"#ff0000","strokeWidth":2.6},"encoding":{"y":{"field":"m"}}},
{"data":{"name":"obs"},"transform":[{"filter":"datum.date<=toDate('2020-08-19')"}],"mark":{"type":"circle","color":"#000000","size":38,"opacity":1,"clip":true},"encoding":{"y":{"field":"cases"}}},
{"data":{"name":"obs"},"transform":[{"filter":"datum.date>toDate('2020-08-19')"}],"mark":{"type":"point","shape":"circle","fill":"#ffffff","stroke":"#000000","strokeWidth":1.3,"size":32,"opacity":1,"fillOpacity":1,"clip":true},"encoding":{"y":{"field":"cases"}}},
{"data":{"values":[{"date":"2020-03-30","v":0,"label":"(f)"}]},"mark":{"type":"text","font":"Liberation Serif","fontWeight":"bold","fontSize":15.5,"color":"#111111","align":"left","baseline":"middle","dy":83},"encoding":{"y":{"field":"v"},"text":{"field":"label"}}}
]}
]}
